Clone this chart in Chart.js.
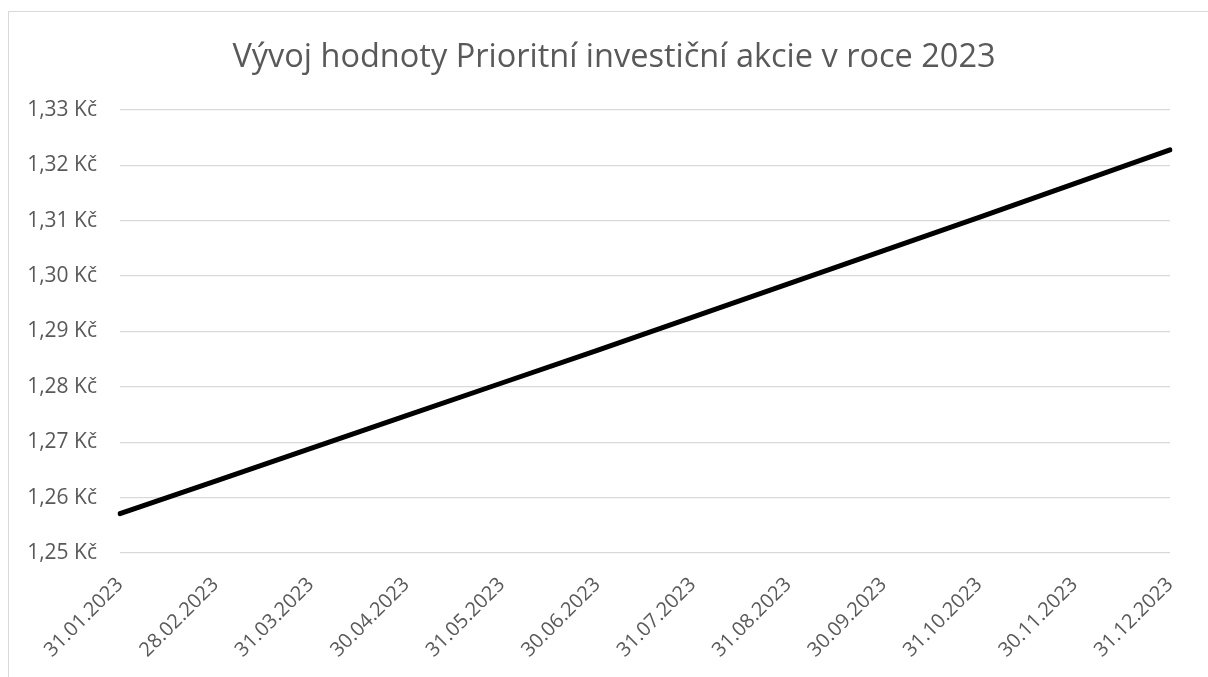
<!DOCTYPE html>
<html>
<head>
<meta charset="utf-8">
<script src="https://cdn.jsdelivr.net/npm/chart.js@4"></script>
<style>
  html, body { margin: 0; padding: 0; background: #fff; overflow: hidden; }
  #frame {
    position: absolute; left: 8px; top: 11px;
    width: 1400px; height: 1000px;
    border: 1px solid #d9d9d9;
  }
  #wrap { position: absolute; left: 0; top: 0; width: 1228px; height: 677px; }
</style>
</head>
<body>
<div id="frame"></div>
<div id="wrap"><canvas id="akcieChart"></canvas></div>
<script>
// --- data ---
const dates = ['31.01.2023', '28.02.2023', '31.03.2023', '30.04.2023', '31.05.2023', '30.06.2023',
               '31.07.2023', '31.08.2023', '30.09.2023', '31.10.2023', '30.11.2023', '31.12.2023'];
const values = [1.2571, 1.2630, 1.2689, 1.2748, 1.2807, 1.2866,
                1.2926, 1.2986, 1.3046, 1.3106, 1.3167, 1.3228];
const yMin = 1.25;
const yMax = 1.33;
const yStep = 0.01;
const titleText = 'Vývoj hodnoty Prioritní investiční akcie v roce 2023';

const textGray = '#595959';
const gridGray = '#d9d9d9';
const fontName = "'Open Sans', sans-serif";

const ctx = document.getElementById('akcieChart').getContext('2d');
const chart = new Chart(ctx, {
    type: 'line',
    data: {
        labels: dates,
        datasets: [{
            label: 'Hodnota',
            data: values,
            borderColor: '#000',
            borderWidth: 5,
            borderCapStyle: 'round',
            pointRadius: 0,
            tension: 0,
            fill: false
        }]
    },
    options: {
        responsive: true,
        maintainAspectRatio: false,
        animation: false,
        layout: { padding: 0 },
        scales: {
            x: {
                offset: false,
                grid: { display: false },
                border: { display: false },
                ticks: {
                    color: textGray,
                    font: { family: fontName, size: 20 },
                    minRotation: 45,
                    maxRotation: 45,
                    autoSkip: false,
                    padding: 12
                },
                afterFit: (scale) => { scale.height = 124; }
            },
            y: {
                min: yMin,
                max: yMax,
                grid: { color: gridGray, lineWidth: 1.3, drawTicks: false },
                border: { display: false },
                ticks: {
                    stepSize: yStep,
                    color: textGray,
                    font: { family: fontName, size: 21 },
                    padding: 23,
                    callback: (v) => v.toFixed(2).replace('.', ',') + ' Kč'
                },
                afterFit: (scale) => { scale.width = 120; }
            },
            // empty right-hand axis: keeps the plot off the right edge while the title stays centred on the whole frame
            yr: {
                position: 'right',
                grid: { display: false },
                border: { display: false },
                ticks: { display: false },
                afterFit: (scale) => { scale.width = 58; }
            }
        },
        plugins: {
            legend: { display: false },
            tooltip: { enabled: false },
            title: {
                display: true,
                text: titleText,
                color: textGray,
                font: { family: fontName, size: 32.5, weight: 'normal' },
                padding: { top: 38, bottom: 33 }
            }
        }
    }
});
</script>
</body>
</html>
